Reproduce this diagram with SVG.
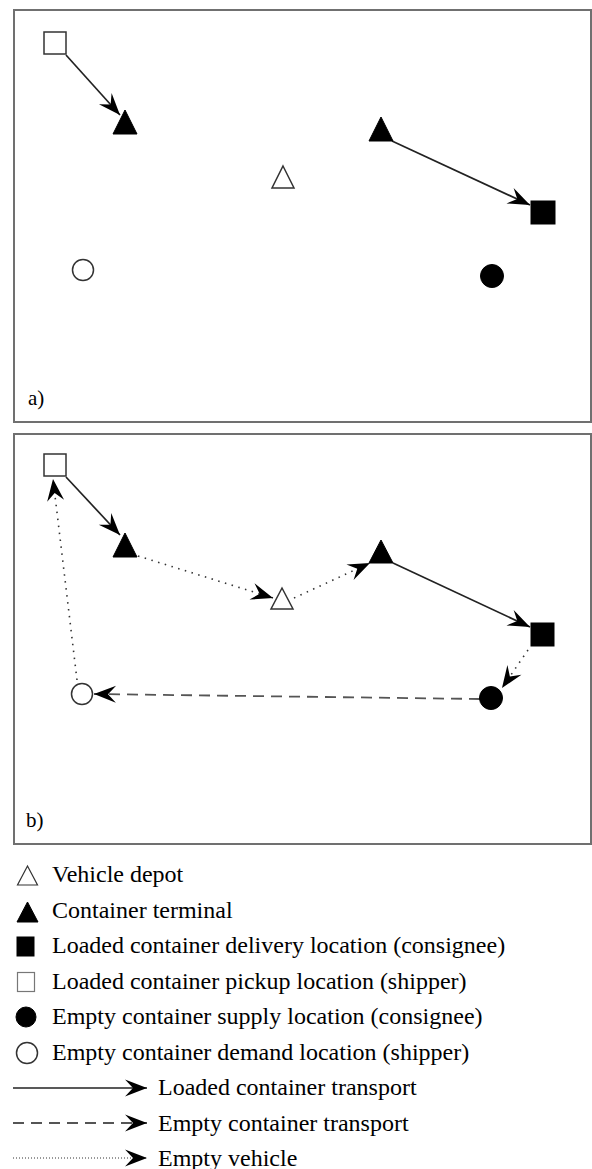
<svg xmlns="http://www.w3.org/2000/svg" width="592" height="1169" viewBox="0 0 592 1169">
<style>
.frame{fill:#fff;stroke:#707070;stroke-width:2}
.open{fill:#fff;stroke:#333;stroke-width:1.5}
.fill{fill:#000;stroke:#000;stroke-width:1}
.solid{fill:none;stroke:#222;stroke-width:1.7}
.dash{fill:none;stroke:#555;stroke-width:1.8;stroke-dasharray:11 7}
.dot{fill:none;stroke:#333;stroke-width:1.6;stroke-dasharray:1.5 5.5}
.dotl{fill:none;stroke:#333;stroke-width:1;stroke-dasharray:1 2}
.lbl{font-family:"Liberation Serif","Times New Roman",serif;font-size:21px;fill:#000}
.leg{font-family:"Liberation Serif","Times New Roman",serif;font-size:24px;fill:#000}
</style>
<defs>
<marker id="ah" viewBox="-23 -10 24 20" refX="0" refY="0" markerWidth="24" markerHeight="20" markerUnits="userSpaceOnUse" orient="auto">
<path d="M0,0 L-22,-8.5 L-14,0 L-22,8.5 Z" fill="#000"/>
</marker>
</defs>
<rect width="592" height="1169" fill="#fff"/>
<g id="panel-a">
<rect class="frame" x="14" y="10" width="577" height="412"/>
<text class="lbl" x="28" y="405">a)</text>
</g>
<g id="panel-b">
<rect class="frame" x="14" y="434" width="577" height="410"/>
<text class="lbl" x="26" y="827">b)</text>
</g>
<g id="connectors">
<line class="solid" x1="66" y1="55" x2="120" y2="115" marker-end="url(#ah)"/>
<line class="solid" x1="392" y1="141" x2="530" y2="205" marker-end="url(#ah)"/>
<line class="solid" x1="66" y1="477" x2="120" y2="535" marker-end="url(#ah)"/>
<line class="dot" x1="138" y1="556" x2="273" y2="598" marker-end="url(#ah)"/>
<line class="dot" x1="294" y1="598" x2="370" y2="563" marker-end="url(#ah)"/>
<line class="solid" x1="393" y1="563" x2="530" y2="627" marker-end="url(#ah)"/>
<line class="dot" x1="528" y1="650" x2="502" y2="688" marker-end="url(#ah)"/>
<line class="dash" x1="480" y1="699" x2="94" y2="694" marker-end="url(#ah)"/>
<line class="dot" x1="77" y1="680" x2="53" y2="479" marker-end="url(#ah)"/>
</g>
<g id="node-a-pickup"><rect class="open" x="44" y="32" width="22" height="22"/></g>
<g id="node-a-terminal1"><polygon class="fill" points="125,110 137,134 113,134"/></g>
<g id="node-a-terminal2"><polygon class="fill" points="381,117 393,141 369,141"/></g>
<g id="node-a-depot"><polygon class="open" points="283,166 294,188 272,188"/></g>
<g id="node-a-delivery"><rect class="fill" x="531" y="201" width="24" height="23"/></g>
<g id="node-a-supply"><circle class="fill" cx="492" cy="276" r="11.5"/></g>
<g id="node-a-demand"><circle class="open" cx="83" cy="270" r="10.5"/></g>
<g id="node-b-pickup"><rect class="open" x="44" y="454" width="22" height="22"/></g>
<g id="node-b-terminal1"><polygon class="fill" points="125,533 137,557 113,557"/></g>
<g id="node-b-terminal2"><polygon class="fill" points="381,540 393,563 369,563"/></g>
<g id="node-b-depot"><polygon class="open" points="282,588 293,609 271,609"/></g>
<g id="node-b-delivery"><rect class="fill" x="531" y="623" width="23" height="23"/></g>
<g id="node-b-supply"><circle class="fill" cx="491" cy="698" r="11.5"/></g>
<g id="node-b-demand"><circle class="open" cx="82" cy="694" r="10.5"/></g>
<g id="legend">
<polygon class="open" points="27.5,866 37.5,885 17.5,885" style="stroke-width:1.2"/>
<text class="leg" x="52" y="882">Vehicle depot</text>
<polygon class="fill" points="27.5,902 38,922 17,922"/>
<text class="leg" x="52" y="917.5">Container terminal</text>
<rect class="fill" x="17" y="937" width="17" height="19"/>
<text class="leg" x="52" y="953">Loaded container delivery location (consignee)</text>
<rect class="open" x="17.5" y="972.5" width="17" height="19" style="stroke:#777;stroke-width:1.2"/>
<text class="leg" x="52" y="988.5">Loaded container pickup location (shipper)</text>
<circle class="fill" cx="26" cy="1017" r="10"/>
<text class="leg" x="52" y="1024">Empty container supply location (consignee)</text>
<circle class="open" cx="27" cy="1053" r="10.5"/>
<text class="leg" x="52" y="1059.5">Empty container demand location (shipper)</text>
<line class="solid" x1="13" y1="1088" x2="147" y2="1088" marker-end="url(#ah)"/>
<text class="leg" x="158" y="1095">Loaded container transport</text>
<line class="dash" x1="13" y1="1123" x2="147" y2="1123" marker-end="url(#ah)"/>
<text class="leg" x="158" y="1130.5">Empty container transport</text>
<line class="dotl" x1="13" y1="1158" x2="147" y2="1158" marker-end="url(#ah)"/>
<text class="leg" x="158" y="1166">Empty vehicle</text>
</g>
</svg>
